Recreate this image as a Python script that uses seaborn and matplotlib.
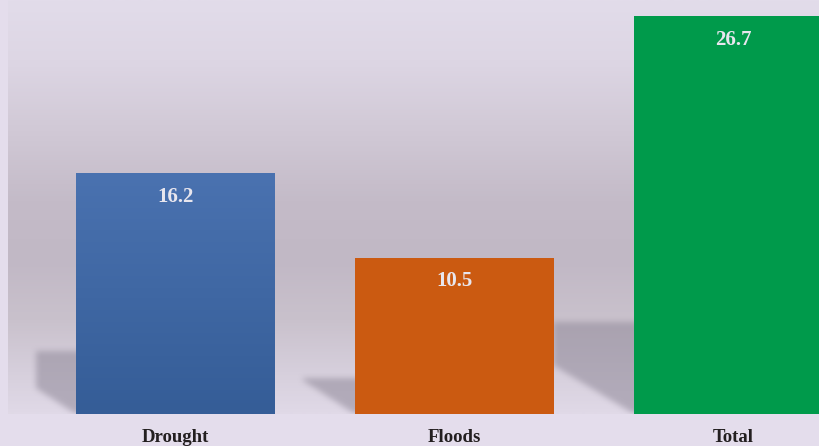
import numpy as np
import pandas as pd
import matplotlib
matplotlib.use("Agg")
import matplotlib.pyplot as plt
from matplotlib.colors import LinearSegmentedColormap, to_rgb
import seaborn as sns

categories = ["Drought", "Floods", "Total"]
values = [16.2, 10.5, 26.7]
bar_colors = ["#4670AE", "#CB5A11", "#009A4B"]

# decorative shadow geometry (relative to bars): left reach, top height, lower-left height
shadow_reach = [0.143, 0.188, 0.29]
shadow_top = [4.2, 2.4, 6.2]
shadow_low = [1.74, 2.28, 3.29]

sns.set_theme(style="white")
plt.rcParams['font.family'] = ['Liberation Serif', 'DejaVu Serif']

W, H = 820, 446
fig = plt.figure(figsize=(W / 100, H / 100), dpi=100, facecolor="#E4DDEC")
ax = fig.add_axes([8 / W, 32 / H, 812 / W, 414 / H])
ax.set_facecolor("#E1DAE8")

XL = (-0.6, 2.31)
YL = (0, 27.8)
bar_w = 0.713

df = pd.DataFrame({"cat": categories, "val": values})
sns.barplot(data=df, x="cat", y="val", hue="cat", palette=bar_colors,
            legend=False, width=bar_w, saturation=1, ax=ax, zorder=3,
            edgecolor="none", linewidth=0)
ax.set_xlim(*XL)
ax.set_ylim(*YL)

# background gradient
stops = [(0, "#E2DCEA"), (60, "#DDD6E4"), (130, "#D1C9D6"), (200, "#C4BBC8"),
         (260, "#C1B8C5"), (320, "#C9C1CC"), (380, "#D8D1DE"), (414, "#E0D9E7")]
cmap = LinearSegmentedColormap.from_list("bg", [(p / 414, c) for p, c in stops])
grad = np.linspace(0, 1, 414).reshape(-1, 1)
ax.imshow(grad, cmap=cmap, aspect="auto", extent=[XL[0], XL[1], YL[0], YL[1]],
          origin="upper", zorder=0, interpolation="bilinear")

# shadows
Wa, Ha = 812, 414
px = XL[0] + (np.arange(Wa) + 0.5) / Wa * (XL[1] - XL[0])
py = YL[1] - (np.arange(Ha) + 0.5) / Ha * (YL[1] - YL[0])
X, Y = np.meshgrid(px, py)
mask = np.zeros((Ha, Wa))
for i, v in enumerate(values):
    xb = i - bar_w / 2
    x0 = xb - shadow_reach[i]
    t = np.clip((X - x0) / (xb - x0), 0, 1)
    low = shadow_low[i] * (1 - t)
    inside = (X >= x0) & (X <= xb + 0.03) & (Y <= shadow_top[i]) & (Y >= low)
    mask = np.maximum(mask, inside.astype(float))


def box_blur(a, r):
    k = np.ones(2 * r + 1) / (2 * r + 1)
    a = np.apply_along_axis(lambda m: np.convolve(m, k, mode="same"), 0, a)
    a = np.apply_along_axis(lambda m: np.convolve(m, k, mode="same"), 1, a)
    return a


mask = box_blur(box_blur(mask, 3), 3)
rgba = np.zeros((Ha, Wa, 4))
rgba[..., :3] = to_rgb("#8F8898")
rgba[..., 3] = mask * 0.55
ax.imshow(rgba, aspect="auto", extent=[XL[0], XL[1], YL[0], YL[1]],
          origin="upper", zorder=1, interpolation="bilinear")

# gradient on the blue bar
patch = ax.patches[0]
bcmap = LinearSegmentedColormap.from_list("blue", ["#4A72B0", "#355D97"])
im = ax.imshow(np.linspace(0, 1, 100).reshape(-1, 1), cmap=bcmap, aspect="auto",
               extent=[0 - bar_w / 2, 0 + bar_w / 2, 0, values[0]],
               origin="upper", zorder=4)
im.set_clip_path(patch)
ax.set_xlim(*XL)
ax.set_ylim(*YL)

for i, v in enumerate(values):
    ax.text(i, v - 1.6, f"{v}", ha="center", va="center", color="#E8E6EE",
            fontsize=15, fontweight="bold", zorder=6)

for s in ax.spines.values():
    s.set_visible(False)
ax.set_yticks([])
ax.set_xticks(range(len(categories)))
ax.set_xticklabels(categories, fontsize=13.5, fontweight="bold", color="#231F20")
ax.tick_params(axis="x", length=0, pad=11)
ax.set_xlabel("")
ax.set_ylabel("")

fig.savefig("out.png", dpi=100, facecolor=fig.get_facecolor())
